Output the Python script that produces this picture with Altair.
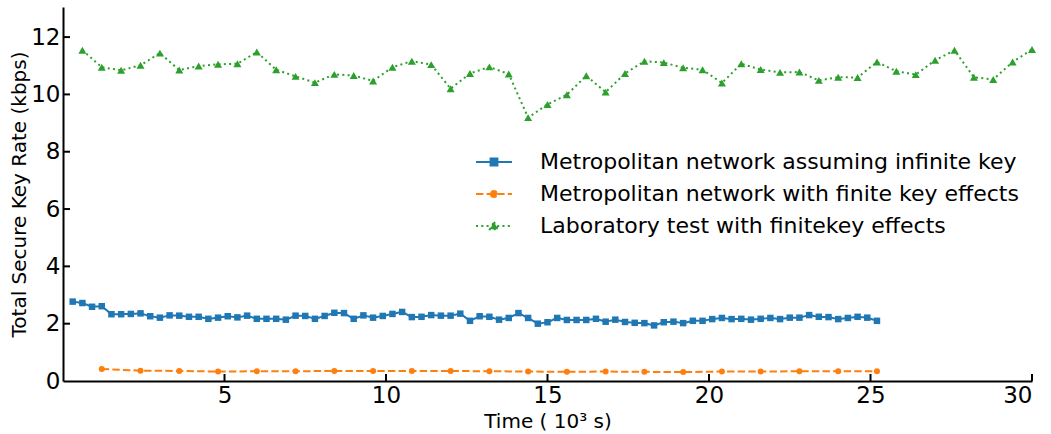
import altair as alt
import pandas as pd

# ---------------- data ----------------
series_names = [
    "Metropolitan network assuming infinite key",
    "Metropolitan network with finite key effects",
    "Laboratory test with finitekey effects",
]

# time stamps (10^3 s)
t_blue = [round(0.3 * k, 1) for k in range(1, 85)]
t_orange = [round(1.2 * k, 1) for k in range(1, 22)]
t_green = [round(0.6 * k, 1) for k in range(1, 51)]

v_blue = [
    2.77, 2.72, 2.59, 2.61, 2.33, 2.33, 2.34, 2.36, 2.26, 2.21, 2.29, 2.28, 2.24, 2.24,
    2.17, 2.21, 2.26, 2.22, 2.28, 2.17, 2.17, 2.17, 2.14, 2.28, 2.27, 2.17, 2.27, 2.38,
    2.37, 2.17, 2.29, 2.21, 2.27, 2.34, 2.41, 2.23, 2.24, 2.30, 2.28, 2.28, 2.35, 2.10,
    2.26, 2.24, 2.14, 2.20, 2.37, 2.20, 2.00, 2.05, 2.20, 2.13, 2.13, 2.13, 2.17, 2.07,
    2.14, 2.06, 2.03, 2.02, 1.94, 2.05, 2.07, 2.02, 2.10, 2.10, 2.16, 2.20, 2.16, 2.17,
    2.14, 2.17, 2.20, 2.16, 2.21, 2.21, 2.30, 2.24, 2.23, 2.16, 2.20, 2.24, 2.21, 2.10,
]
v_orange = [
    0.42, 0.36, 0.35, 0.33, 0.34, 0.34, 0.35, 0.35, 0.35, 0.35, 0.34,
    0.33, 0.32, 0.33, 0.32, 0.31, 0.33, 0.33, 0.34, 0.34, 0.34,
]
v_green = [
    11.54, 10.95, 10.84, 11.02, 11.44, 10.85, 10.99, 11.05, 11.07, 11.48, 10.86, 10.63,
    10.41, 10.70, 10.66, 10.47, 10.95, 11.16, 11.04, 10.20, 10.73, 10.96, 10.71, 9.19,
    9.65, 9.99, 10.65, 10.08, 10.73, 11.16, 11.11, 10.93, 10.86, 10.40, 11.07, 10.87,
    10.77, 10.78, 10.49, 10.60, 10.59, 11.13, 10.81, 10.69, 11.19, 11.54, 10.60, 10.52,
    11.13, 11.57,
]

x_ticks = [5, 10, 15, 20, 25, 30]
y_ticks = [0, 2, 4, 6, 8, 10, 12]

# ---------------- styles ----------------
colors = ["#1f77b4", "#ff7f0e", "#2ca02c"]
dashes = [[1, 0], [7.4, 3.2], [2, 3.3]]
shapes = ["square", "circle", "triangle-up"]
sizes = [42, 36, 64]
legend_paths = [
    "M-2,0 L2,0 M-0.38,-0.38 L0.38,-0.38 L0.38,0.38 L-0.38,0.38 Z",
    "M-2,0 L2,0 M-0.34,0 A0.34,0.34 0 1,0 0.34,0 A0.34,0.34 0 1,0 -0.34,0 Z",
    "M-2,0 L2,0 M0,-0.45 L0.45,0.35 L-0.45,0.35 Z",
]

W, H = 969, 374
FONT = "DejaVu Sans"

x_enc = alt.X(
    "t:Q",
    scale=alt.Scale(domain=[0, 30], nice=False, zero=False),
    axis=alt.Axis(
        values=x_ticks, tickSize=0, grid=False, labelFontSize=23, labelPadding=3,
        labelColor="black", domainColor="black", domainWidth=2,
        title="Time ( 10³ s)", titleFontSize=20, titleFontWeight="normal",
        titleColor="black", titlePadding=4,
    ),
)
y_enc = alt.Y(
    "value:Q",
    scale=alt.Scale(domain=[0, 13.05], nice=False),
    axis=alt.Axis(
        values=y_ticks, tickSize=0, grid=False, labelFontSize=23, labelPadding=3,
        labelColor="black", domainColor="black", domainWidth=2,
        title="Total Secure Key Rate (kbps)", titleFontSize=20,
        titleFontWeight="normal", titleColor="black", titlePadding=1,
    ),
)

frames = [
    pd.DataFrame({"t": t_blue, "value": v_blue, "series": series_names[0]}),
    pd.DataFrame({"t": t_orange, "value": v_orange, "series": series_names[1]}),
    pd.DataFrame({"t": t_green, "value": v_green, "series": series_names[2]}),
]

layers = []
for i, df in enumerate(frames):
    layers.append(
        alt.Chart(df).mark_line(color=colors[i], strokeWidth=2, strokeDash=dashes[i],
                                strokeCap="butt")
        .encode(x=x_enc, y=y_enc)
    )
    layers.append(
        alt.Chart(df).mark_point(shape=shapes[i], filled=True, opacity=1,
                                 color=colors[i], size=sizes[i])
        .encode(x=x_enc, y=y_enc)
    )

# legend layer (no visible data; provides the merged legend)
all_df = pd.concat(frames, ignore_index=True)
leg_kw = dict(title=None)
legend_layer = (
    alt.Chart(all_df)
    .transform_filter("false")
    .mark_point(filled=True, size=324, strokeWidth=2, opacity=1)
    .encode(
        x=x_enc,
        y=y_enc,
        fill=alt.Fill("series:N", scale=alt.Scale(domain=series_names, range=colors),
                      legend=alt.Legend(**leg_kw)),
        stroke=alt.Stroke("series:N", scale=alt.Scale(domain=series_names, range=colors),
                          legend=alt.Legend(**leg_kw)),
        shape=alt.Shape("series:N", scale=alt.Scale(domain=series_names, range=legend_paths),
                        legend=alt.Legend(**leg_kw)),
        strokeDash=alt.StrokeDash("series:N",
                                  scale=alt.Scale(domain=series_names, range=dashes),
                                  legend=alt.Legend(**leg_kw)),
    )
)

# inward tick marks
xt = alt.Chart(pd.DataFrame({"t": x_ticks})).mark_rule(color="black", strokeWidth=2).encode(
    x=x_enc, y=alt.value(H), y2=alt.value(H - 7)
)
yt = alt.Chart(pd.DataFrame({"value": y_ticks[1:]})).mark_rule(color="black", strokeWidth=2).encode(
    y=y_enc, x=alt.value(0), x2=alt.value(7)
)

chart = (
    alt.layer(*layers, legend_layer, xt, yt)
    .properties(
        width=W, height=H,
        autosize=alt.AutoSizeParams(type="none"),
        padding={"left": 63, "top": 7, "right": 19, "bottom": 53},
    )
    .configure(font=FONT)
    .configure_view(stroke=None)
    .configure_legend(
        orient="none", legendX=420, legendY=144, labelFontSize=22, labelFont=FONT,
        labelColor="black", symbolSize=324, symbolStrokeWidth=2, labelOffset=35,
        rowPadding=10, padding=0, labelLimit=0, symbolOpacity=1,
    )
)

chart.save("out.html", embed_options={"renderer": "svg", "actions": False})
